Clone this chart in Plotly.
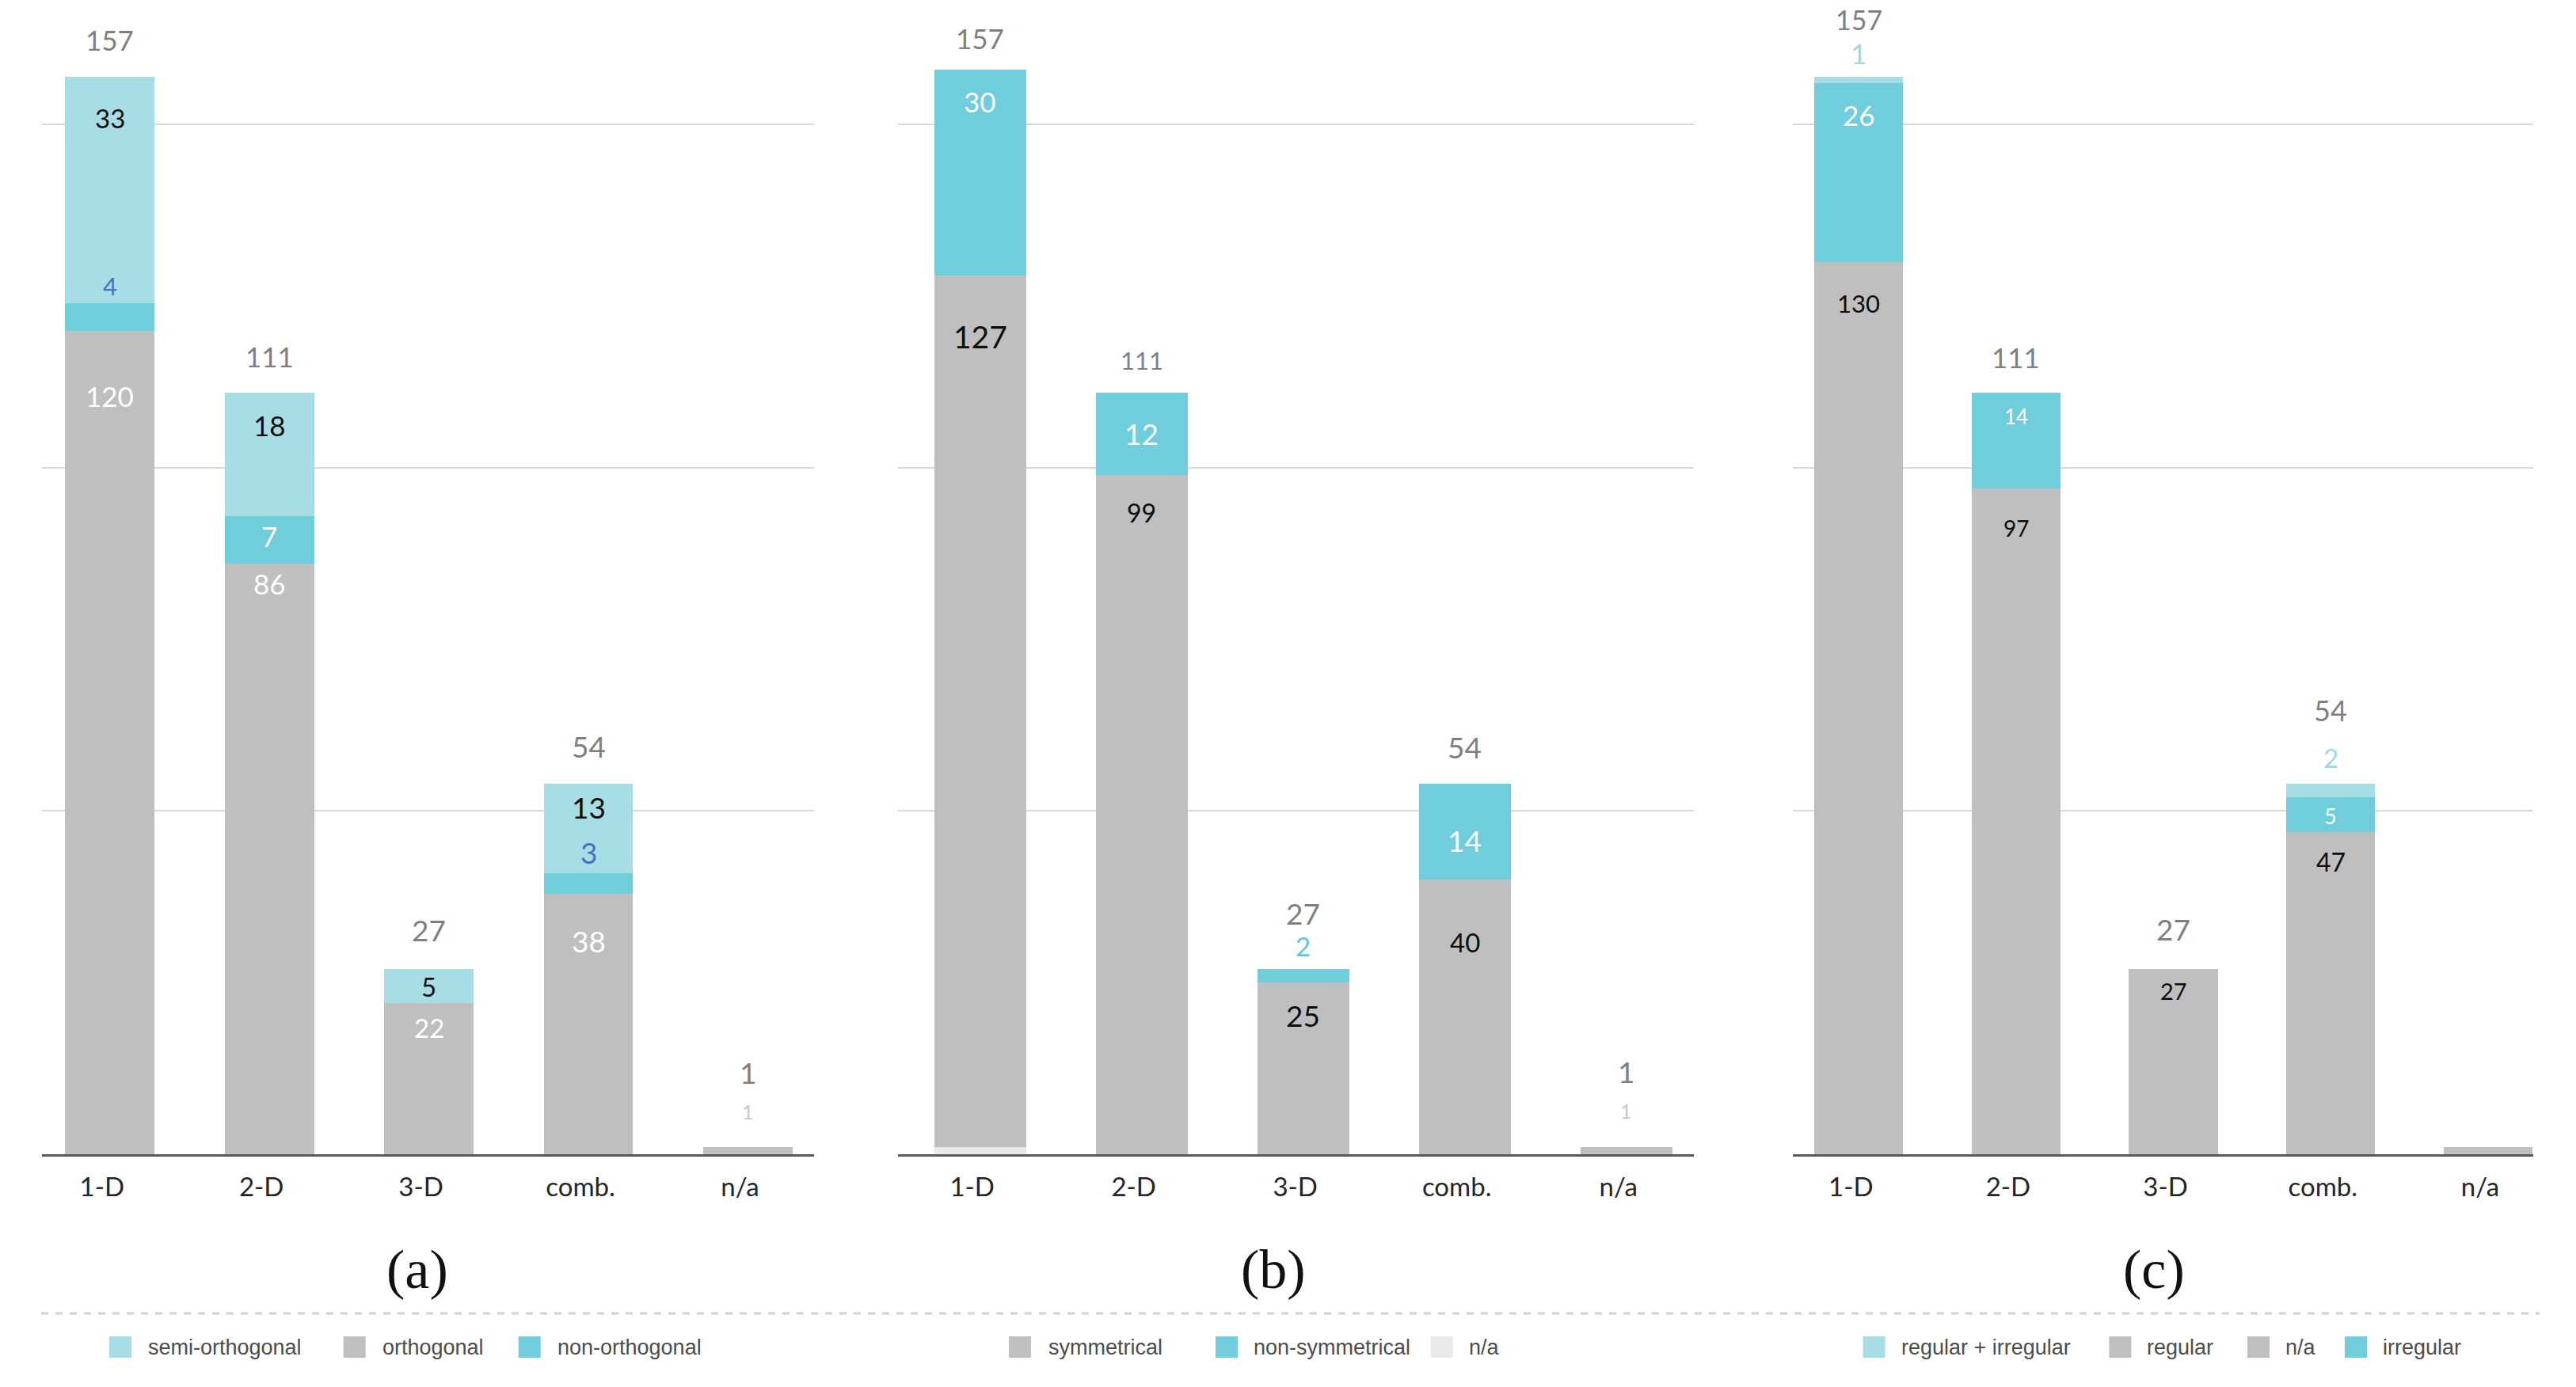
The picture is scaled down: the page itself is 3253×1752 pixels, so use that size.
import plotly.graph_objects as go

# ---------------- data ----------------
categories = ["1-D", "2-D", "3-D", "comb.", "n/a"]
totals = [157, 111, 27, 54, 1]

# (a)
a_orthogonal = [120, 86, 22, 38, 1]
a_non_orthogonal = [4, 7, 0, 3, 0]
a_semi_orthogonal = [33, 18, 5, 13, 0]

# (b)
b_na = [1, 0, 0, 0, 0]
b_symmetrical = [127, 99, 25, 40, 1]
b_non_symmetrical = [30, 12, 2, 14, 0]

# (c)
c_na = [0, 0, 0, 0, 1]
c_regular = [130, 97, 27, 47, 0]
c_irregular = [26, 14, 0, 5, 0]
c_regular_irregular = [1, 0, 0, 2, 0]

panel_titles = ["(a)", "(b)", "(c)"]

# ---------------- styles ----------------
W, H = 3253, 1752
GRAY = "#BFBFBF"
CYAN = "#6FCDDC"
LIGHT = "#A7DDE5"
NA_LIGHT = "#EAEAEA"
BLACK = "#0D0D0D"
WHITE = "#FFFFFF"
BLUE = "#4472C4"
LGRAY_TXT = "#C8C8C8"
CYAN_TXT = "#5BC8DC"
LIGHT_TXT = "#9ED8E2"
TOTAL_TXT = "#7F7F7F"
NUM_FONT = "Lato"

BASE_PX = 1458.0          # baseline position from top (px)
Y_MAX = 165.0
TOP_PX = 27.4
y_domain = [(H - BASE_PX) / H, (H - TOP_PX) / H]

panels = [
    dict(
        suffix="", x_domain=[52.6 / W, 1028 / W], x_range=[-0.428, 4.415], width=0.56,
        series=[("orthogonal", a_orthogonal, GRAY),
                ("non-orthogonal", a_non_orthogonal, CYAN),
                ("semi-orthogonal", a_semi_orthogonal, LIGHT)],
        labels={(2, 0): (BLACK, 33, -52), (1, 0): (BLUE, 31, 22), (0, 0): (WHITE, 35, -82),
                (2, 1): (BLACK, 35, -41), (1, 1): (WHITE, 35, -25), (0, 1): (WHITE, 35, -25),
                (2, 2): (BLACK, 33, -22), (0, 2): (WHITE, 33, -31),
                (2, 3): (BLACK, 37, -30), (1, 3): (BLUE, 37, 26), (0, 3): (WHITE, 37, -60),
                (0, 4): (LGRAY_TXT, 25, 45)},
        total_shift=[47, 46, 49, 47, 95], total_size=[35, 35, 37, 37, 37],
        title_x=527,
        legend=[("semi-orthogonal", LIGHT, 138, 184.6),
                ("orthogonal", GRAY, 433.7, 480.7),
                ("non-orthogonal", CYAN, 654.7, 701.8)],
    ),
    dict(
        suffix="2", x_domain=[1134 / W, 2139 / W], x_range=[-0.508, 4.418], width=0.57,
        series=[("n/a", b_na, NA_LIGHT),
                ("symmetrical", b_symmetrical, GRAY),
                ("non-symmetrical", b_non_symmetrical, CYAN)],
        labels={(2, 0): (WHITE, 35, -40), (1, 0): (BLACK, 39, -77),
                (2, 1): (WHITE, 37, -52), (1, 1): (BLACK, 32, -48),
                (2, 2): (CYAN_TXT, 33, 29), (1, 2): (BLACK, 37, -41),
                (2, 3): (WHITE, 37, -72), (1, 3): (BLACK, 33, -79),
                (1, 4): (LGRAY_TXT, 25, 46)},
        total_shift=[40, 41, 70, 46, 96], total_size=[35, 31, 37, 37, 37],
        title_x=1608,
        legend=[("symmetrical", GRAY, 1274, 1321.8),
                ("non-symmetrical", CYAN, 1535, 1581),
                ("n/a", NA_LIGHT, 1807, 1853)],
    ),
    dict(
        suffix="3", x_domain=[2264 / W, 3199 / W], x_range=[-0.419, 4.287], width=0.565,
        series=[("n/a", c_na, GRAY),
                ("regular", c_regular, GRAY),
                ("irregular", c_irregular, CYAN),
                ("regular + irregular", c_regular_irregular, LIGHT)],
        labels={(3, 0): (LIGHT_TXT, 35, 30), (2, 0): (WHITE, 35, -40), (1, 0): (BLACK, 31, -52),
                (2, 1): (WHITE, 26, -30), (1, 1): (BLACK, 28, -50),
                (1, 2): (BLACK, 29, -28),
                (3, 3): (LIGHT_TXT, 33, 33), (2, 3): (WHITE, 27, -23), (1, 3): (BLACK, 32, -38)},
        total_shift=[72, 45, 50, 93, None], total_size=[34, 35, 37, 36, 37],
        title_x=2720,
        legend=[("regular + irregular", LIGHT, 2352.5, 2398.8),
                ("regular", GRAY, 2663.4, 2709),
                ("n/a", GRAY, 2838, 2883.7),
                ("irregular", CYAN, 2961, 3007)],
    ),
]

fig = go.Figure()
annotations = []
shapes = []

for pi, p in enumerate(panels):
    xa = "x" + p["suffix"]
    ya = "y" + p["suffix"]
    cum = [0.0] * len(categories)
    tops = []
    for name, vals, color in p["series"]:
        fig.add_trace(go.Bar(
            x=categories, y=vals, name=name, xaxis=xa, yaxis=ya,
            marker=dict(color=color, line=dict(width=0)),
            width=p["width"], showlegend=False, hoverinfo="x+y+name",
        ))
        cum = [c + v for c, v in zip(cum, vals)]
        tops.append(list(cum))
    # segment labels
    for (si, ci), (col, size, shift) in p["labels"].items():
        val = p["series"][si][1][ci]
        annotations.append(dict(
            x=categories[ci], y=tops[si][ci], xref=xa, yref=ya, text=str(val),
            showarrow=False, yanchor="middle", xanchor="center", yshift=shift,
            font=dict(family=NUM_FONT, size=size, color=col)))
    # totals
    for ci, tot in enumerate(totals):
        shift = p["total_shift"][ci]
        if shift is None:
            continue
        annotations.append(dict(
            x=categories[ci], y=tops[-1][ci], xref=xa, yref=ya, text=str(tot),
            showarrow=False, yanchor="middle", xanchor="center", yshift=shift,
            font=dict(family=NUM_FONT, size=p["total_size"][ci], color=TOTAL_TXT)))
    # panel title
    annotations.append(dict(
        x=p["title_x"] / W, y=1 - 1603 / H, xref="paper", yref="paper",
        text=panel_titles[pi], showarrow=False,
        xanchor="center", yanchor="middle",
        font=dict(family="Liberation Serif", size=70, color="#111111")))
    # legend (swatch + label)
    for name, color, mx, tx in p["legend"]:
        yc = 1701.6
        shapes.append(dict(type="rect", xref="paper", yref="paper",
                           x0=mx / W, x1=(mx + 28) / W,
                           y0=1 - (yc + 13.5) / H, y1=1 - (yc - 13.5) / H,
                           fillcolor=color, line=dict(width=0)))
        annotations.append(dict(
            x=tx / W, y=1 - yc / H, xref="paper", yref="paper", text=name,
            showarrow=False, xanchor="left", yanchor="middle",
            font=dict(family="Liberation Sans", size=27, color="#4D4D4D")))

# dashed separator
shapes.append(dict(type="line", xref="paper", yref="paper",
                   x0=52 / W, x1=3207 / W, y0=1 - 1659 / H, y1=1 - 1659 / H,
                   line=dict(color="#D0D0D0", width=3, dash="dash")))

layout = dict(
    width=W, height=H, margin=dict(l=0, r=0, t=0, b=0),
    paper_bgcolor="white", plot_bgcolor="white",
    barmode="stack", showlegend=False,
    annotations=annotations, shapes=shapes,
)
for p in panels:
    s = p["suffix"]
    layout["xaxis" + s] = dict(
        domain=p["x_domain"], range=p["x_range"], type="category",
        anchor="y" + s, showgrid=False, zeroline=False,
        showline=True, linecolor="#595959", linewidth=3, ticks="",
        tickfont=dict(family=NUM_FONT, size=33, color="#262626"),
        ticklabelstandoff=10, ticklabelshift=-10, fixedrange=True,
    )
    layout["yaxis" + s] = dict(
        domain=y_domain, range=[0, Y_MAX], anchor="x" + s,
        showgrid=True, gridcolor="#D9D9D9", gridwidth=2, dtick=50, tick0=0,
        zeroline=False, showline=False, showticklabels=False, ticks="",
        fixedrange=True,
    )
fig.update_layout(**layout)

fig.write_html("out.html", config={"displayModeBar": False},
               post_script="document.body.style.margin='0';document.body.style.overflow='hidden';")
